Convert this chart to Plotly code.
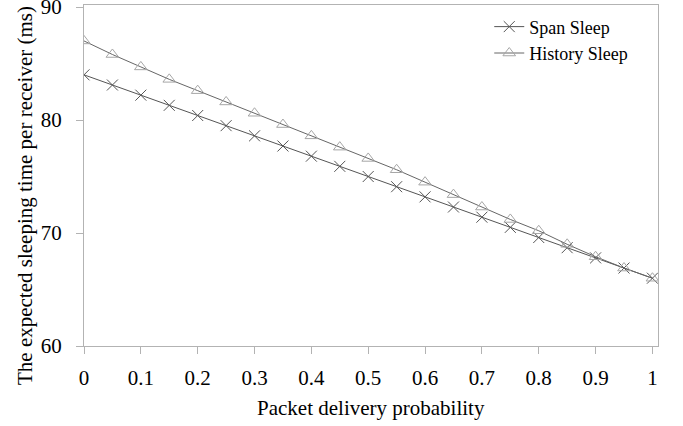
import plotly.graph_objects as go

prob = [0, 0.05, 0.1, 0.15, 0.2, 0.25, 0.3, 0.35, 0.4, 0.45, 0.5,
        0.55, 0.6, 0.65, 0.7, 0.75, 0.8, 0.85, 0.9, 0.95, 1.0]
span_sleep = [84.0, 83.1, 82.2, 81.3, 80.4, 79.5, 78.6, 77.7, 76.8, 75.9, 75.0,
              74.1, 73.2, 72.3, 71.4, 70.5, 69.6, 68.7, 67.8, 66.9, 66.0]
history_sleep = [87.0, 85.8, 84.7, 83.6, 82.6, 81.6, 80.6, 79.6, 78.6, 77.6, 76.6,
                 75.6, 74.5, 73.4, 72.3, 71.2, 70.2, 69.0, 67.9, 66.9, 66.0]
x_ticks = [0, 0.1, 0.2, 0.3, 0.4, 0.5, 0.6, 0.7, 0.8, 0.9, 1]
x_tick_labels = ["0", "0.1", "0.2", "0.3", "0.4", "0.5", "0.6", "0.7", "0.8", "0.9", "1"]
y_ticks = [60, 70, 80, 90]

font_family = "Liberation Serif, Times New Roman, serif"

fig = go.Figure()
fig.add_trace(go.Scatter(
    x=prob, y=span_sleep, name="Span Sleep", mode="lines+markers",
    line=dict(color="#555555", width=1),
    marker=dict(symbol="x-thin-open", size=11, line=dict(color="#404040", width=1)),
))
fig.add_trace(go.Scatter(
    x=prob, y=history_sleep, name="History Sleep", mode="lines+markers",
    line=dict(color="#666666", width=1),
    marker=dict(symbol="triangle-up-open", size=11, color="#a6a6a6",
                line=dict(color="#a6a6a6", width=1)),
))

fig.update_layout(
    width=683, height=426,
    margin=dict(l=84, r=25, t=5, b=80, autoexpand=False),
    paper_bgcolor="white", plot_bgcolor="white",
    font=dict(family=font_family, size=18, color="black"),
    showlegend=True,
    legend=dict(x=0.706, y=0.99, xanchor="left", yanchor="top",
                bgcolor="rgba(0,0,0,0)", font=dict(size=18, family=font_family),
                tracegroupgap=0, itemwidth=30),
    annotations=[
        dict(text="The expected sleeping time per receiver (ms)", xref="paper", yref="paper",
             x=-59 / 574, y=(346 - 196) / 341, textangle=-90, showarrow=False,
             xanchor="center", yanchor="middle", font=dict(size=21)),
        dict(text="Packet delivery probability", xref="paper", yref="paper",
             x=0.5, y=-(408 - 346) / 341, showarrow=False,
             xanchor="center", yanchor="middle", font=dict(size=21)),
    ],
)
fig.update_xaxes(
    range=[0, 1.0098], tickvals=x_ticks, ticktext=x_tick_labels, automargin=False,
    showgrid=False, zeroline=False, showline=True, mirror=True,
    linecolor="#b3b3b3", linewidth=1, ticks="outside", ticklen=7,
    tickcolor="#b3b3b3", tickfont=dict(size=21), ticklabelstandoff=6,
    ticklabeloverflow="allow",
)
fig.update_yaxes(
    range=[60, 90.18], tickvals=y_ticks, automargin=False,
    showgrid=False, zeroline=False, showline=True, mirror=True,
    linecolor="#b3b3b3", linewidth=1, ticks="outside", ticklen=7,
    tickcolor="#b3b3b3", tickfont=dict(size=21), ticklabelstandoff=10,
    ticklabeloverflow="allow",
)

fig.write_html("out.html", config={"displayModeBar": False},
               post_script="document.body.style.margin='0px';")
